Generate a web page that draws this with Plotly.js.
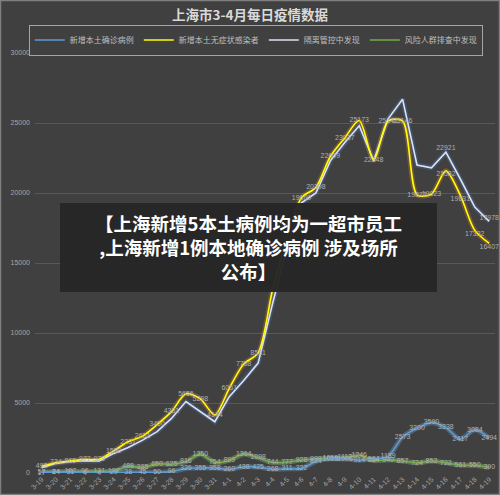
<!DOCTYPE html>
<html><head><meta charset="utf-8">
<script src="https://cdn.plot.ly/plotly-3.0.1.min.js"></script>
<style>html,body{margin:0;padding:0;background:#404040;}#c{width:500px;height:495px;}</style>
</head><body><div id="c"></div>
<script>
const dates = ['3-19','3-20','3-21','3-22','3-23','3-24','3-25','3-26','3-27','3-28','3-29','3-30','3-31','4-1','4-2','4-3','4-4','4-5','4-6','4-7','4-8','4-9','4-10','4-11','4-12','4-13','4-14','4-15','4-16','4-17','4-18','4-19'];
const confirmed = [17,24,31,4,4,29,38,45,50,96,326,355,358,260,438,425,268,311,322,824,1015,1006,914,994,1189,2573,3200,3590,3238,2417,3084,2494];
const asymptomatic = [492,734,865,977,979,1580,2231,2631,3450,4381,5656,5298,4144,6051,7788,8581,13086,16766,19660,20398,22609,23937,25173,22348,25141,25146,19872,19923,21582,19831,17332,16407];
const quarantine = [380,690,820,880,860,1400,1820,2350,2950,3900,5100,4380,3660,5450,6600,7850,12100,16100,19300,20000,22300,23600,24800,22300,25300,26700,22000,21800,22921,21000,19000,17978];
const riskScreen = [57,84,107,96,131,127,488,385,650,625,816,1350,754,899,1364,1098,744,777,928,999,1059,1112,1246,884,940,857,724,852,722,561,550,390];
const quarantineLabelDays = ['4-16','4-19'];
const asymLabelBelowDays = ['4-16','4-17','4-18','4-19'];
const seriesNames = ['新增本土确诊病例','新增本土无症状感染者','隔离管控中发现','风险人群排查中发现'];

const labFont = {size:7, color:'#b0b0b0', family:'Liberation Sans, Arial, sans-serif'};
function glow(y, color, shape){
  return {x:dates, y:y, type:'scatter', mode:'lines', showlegend:false, hoverinfo:'skip',
    line:{color:color, width:5, shape:shape, smoothing:0.8}, opacity:0.3};
}
const traces = [
  glow(riskScreen,'#a9d18e','spline'),
  glow(confirmed,'#7fb0e0','spline'),
  glow(quarantine,'#4a78c8','linear'),
  glow(asymptomatic,'#e08a2c','spline'),
  {x:dates, y:riskScreen, name:seriesNames[3], legendrank:4, type:'scatter', mode:'lines+text', cliponaxis:false,
   text:riskScreen.map(String), textposition:'middle center', textfont:labFont,
   line:{color:'#70ad47', width:1.6, shape:'spline', smoothing:0.8}},
  {x:dates, y:confirmed, name:seriesNames[0], legendrank:1, type:'scatter', mode:'lines+text', cliponaxis:false,
   text:confirmed.map(String), textposition:'middle center', textfont:labFont,
   line:{color:'#5b9bd5', width:1.6, shape:'spline', smoothing:0.8}},
  {x:dates, y:quarantine, name:seriesNames[2], legendrank:3, type:'scatter', mode:'lines+text', cliponaxis:false,
   text:quarantine.map((v,i)=>quarantineLabelDays.includes(dates[i])?String(v):''), textposition:'top center', textfont:labFont,
   line:{color:'#dde3ee', width:1.6}},
  {x:dates, y:asymptomatic, name:seriesNames[1], legendrank:2, type:'scatter', mode:'lines+text', cliponaxis:false,
   text:asymptomatic.map(String), textposition:dates.map(d=>asymLabelBelowDays.includes(d)?'bottom center':'middle center'), textfont:labFont,
   line:{color:'#ffff00', width:1.6, shape:'spline', smoothing:0.8}}
];

const L=35, R=5, T=53, B=22, W=500, H=495;
const pw=W-L-R, ph=H-T-B;
const px=(x)=>(x-L)/pw, py=(y)=>(H-B-y)/ph;

const layout = {
  width:W, height:H,
  paper_bgcolor:'#404040', plot_bgcolor:'#404040',
  margin:{l:L, r:R, t:T, b:B},
  font:{family:'Noto Sans CJK SC, sans-serif', color:'#bfbfbf'},
  title:{text:'<b>上海市3-4月每日疫情数据</b>', font:{size:13.5, color:'#d9d9d9', family:'Noto Sans CJK SC'}, x:0.5, xanchor:'center', y:1-15/H, yanchor:'middle'},
  showlegend:true,
  legend:{orientation:'h', x:0.48, xanchor:'center', y:py(40), yanchor:'middle',
    font:{size:8, color:'#bfbfbf', family:'Noto Sans CJK SC'}, bordercolor:'#a6a6a6', borderwidth:1,
    bgcolor:'rgba(0,0,0,0)', itemwidth:30, traceorder:'normal', tracegroupgap:0},
  xaxis:{type:'category', range:[-0.45,31.4], showgrid:false, zeroline:false, showline:false,
    tickangle:-45, tickfont:{size:7, color:'#a6a6a6', family:'Liberation Sans, Arial'}, ticks:'', fixedrange:true},
  yaxis:{range:[0,30000], tickvals:[0,5000,10000,15000,20000,25000,30000], tickformat:'d', gridcolor:'#595959', gridwidth:1,
    zeroline:false, showline:false, tickfont:{size:7, color:'#a6a6a6', family:'Liberation Sans, Arial'}, ticks:'', ticklabelstandoff:4},
  shapes:[
    {type:'rect', xref:'paper', yref:'paper', x0:px(60), x1:px(437), y0:py(292), y1:py(203), fillcolor:'#262626', line:{width:0}, layer:'above', opacity:0.97},
    {type:'rect', xref:'paper', yref:'paper', x0:px(0.5), x1:px(499.5), y0:py(494.5), y1:py(0.5), line:{color:'#7f7f7f', width:1.5}, fillcolor:'rgba(0,0,0,0)', layer:'above'}
  ],
  annotations:[
    {xref:'paper', yref:'paper', x:px(248), y:py(247), xanchor:'center', yanchor:'middle', showarrow:false,
     text:'<b>【上海新增5本土病例均为一超市员工<br>,上海新增1例本地确诊病例 涉及场所<br>公布】</b>', align:'center',
     font:{size:18.5, color:'#ffffff', family:'Noto Sans CJK SC'}}
  ]
};
Plotly.newPlot('c', traces, layout, {displayModeBar:false, staticPlot:true});
</script></body></html>
